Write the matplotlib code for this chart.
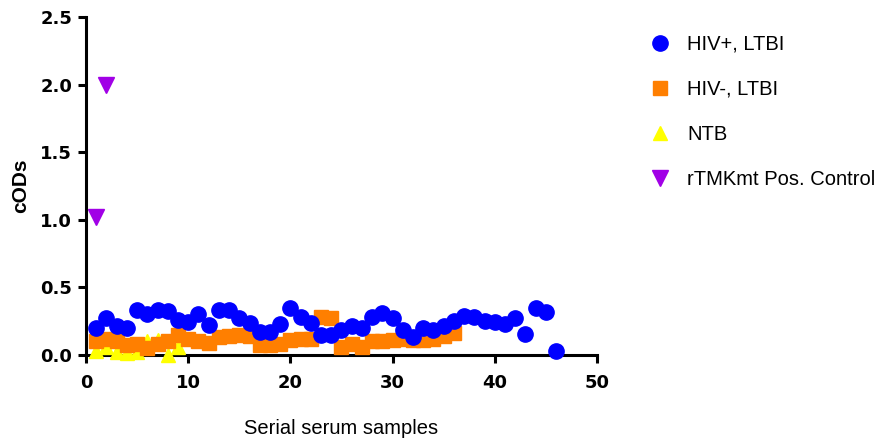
import numpy as np
import matplotlib.pyplot as plt

# --- data ---
hiv_pos_x = np.arange(1, 47)
hiv_pos = [0.20, 0.27, 0.21, 0.20, 0.33, 0.30, 0.33, 0.325, 0.26, 0.24,
           0.30, 0.22, 0.33, 0.33, 0.27, 0.235, 0.17, 0.17, 0.23, 0.345,
           0.28, 0.235, 0.15, 0.15, 0.185, 0.21, 0.20, 0.28, 0.31, 0.27,
           0.185, 0.135, 0.20, 0.185, 0.21, 0.25, 0.29, 0.28, 0.25, 0.24,
           0.23, 0.27, 0.155, 0.35, 0.32, 0.025]

hiv_neg_x = np.arange(1, 37)
hiv_neg = [0.10, 0.12, 0.10, 0.07, 0.08, 0.05, 0.08, 0.10, 0.15, 0.12,
           0.10, 0.09, 0.13, 0.14, 0.15, 0.14, 0.07, 0.07, 0.08, 0.11,
           0.12, 0.12, 0.28, 0.27, 0.06, 0.08, 0.06, 0.10, 0.10, 0.11,
           0.12, 0.11, 0.11, 0.12, 0.14, 0.16]

ntb_x = np.arange(1, 10)
ntb = [0.03, 0.06, 0.02, 0.01, 0.02, 0.10, 0.11, 0.0, 0.06]

ctrl_x = [1, 2]
ctrl = [1.02, 2.0]

labels = ["HIV+, LTBI", "HIV-, LTBI", "NTB", "rTMKmt Pos. Control"]
y_ticks = [0.0, 0.5, 1.0, 1.5, 2.0, 2.5]
x_ticks = [0, 10, 20, 30, 40, 50]

plt.rcParams['font.family'] = ['Liberation Sans', 'DejaVu Sans']

fig = plt.figure(figsize=(8.87, 4.38), dpi=100)
ax = fig.add_axes([0.097, 0.19, 0.576, 0.771])

h_ntb, = ax.plot(ntb_x, ntb, '^', color='#FFFF00', ms=10, ls='none',
                 zorder=3, clip_on=False, label=labels[2])
h_neg, = ax.plot(hiv_neg_x, hiv_neg, 's', color='#FF7F00', ms=10, ls='none',
                 zorder=4, clip_on=False, label=labels[1])
h_pos, = ax.plot(hiv_pos_x, hiv_pos, 'o', color='#0000FF', ms=11, ls='none',
                 zorder=5, clip_on=False, label=labels[0])
h_ctrl, = ax.plot(ctrl_x, ctrl, 'v', color='#A100E6', ms=11, ls='none',
                  zorder=5, clip_on=False, label=labels[3])

ax.set_xlim(0, 50)
ax.set_ylim(0, 2.5)
ax.set_xticks(x_ticks)
ax.set_yticks(y_ticks)
ax.set_yticklabels([f"{v:.1f}" for v in y_ticks])

for s in ['top', 'right']:
    ax.spines[s].set_visible(False)
for s in ['left', 'bottom']:
    ax.spines[s].set_linewidth(2.2)
ax.tick_params(width=2.2, length=6, direction='out')
ax.tick_params(axis='x', pad=8)
ax.tick_params(axis='y', pad=4)
for lab in ax.get_xticklabels() + ax.get_yticklabels():
    lab.set_fontfamily('DejaVu Sans')
    lab.set_fontweight('bold')
    lab.set_fontsize(13)

ax.set_xlabel("Serial serum samples", fontsize=14.5, labelpad=19)
ax.set_ylabel("cODs", fontsize=15, fontweight='bold', labelpad=7)

fig.legend(handles=[h_pos, h_neg, h_ntb, h_ctrl], labels=labels,
           loc='upper left', bbox_to_anchor=(0.71, 0.962), frameon=False,
           fontsize=14.5, handletextpad=0.75, labelspacing=1.3, handlelength=1.2)

fig.savefig("out.png", dpi=100)
